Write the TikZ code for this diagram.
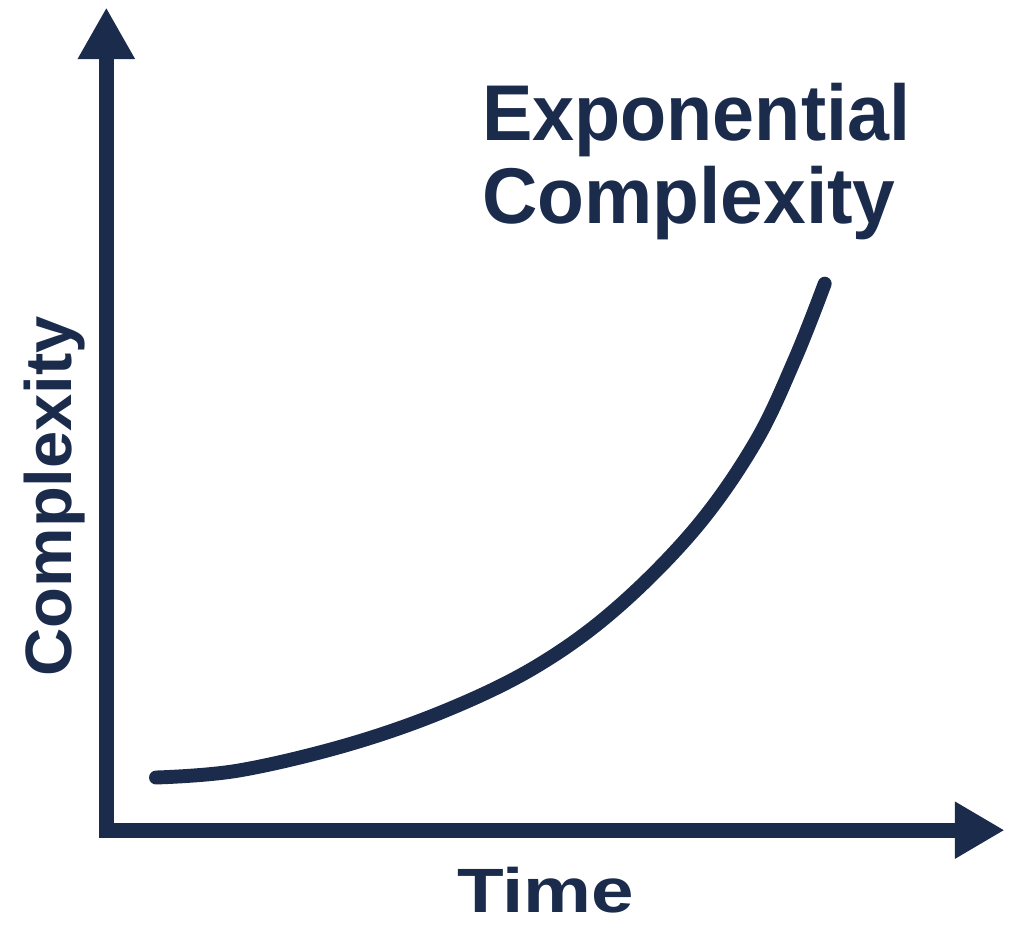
\documentclass[tikz,border=0pt]{standalone}
\usepackage{fontspec}
\setmainfont{Liberation Sans}
\usetikzlibrary{arrows.meta}
\definecolor{navy}{RGB}{27,43,76}
\tikzset{
  axis/.style={draw=navy, line width=15pt, line join=miter, line cap=butt,
    {Triangle[width=54pt,length=52pt]}-{Triangle[width=54pt,length=50pt]}},
  curve/.style={draw=navy, line width=14pt, line cap=round, line join=round},
  lbl/.style={text=navy, inner sep=0pt, font=\bfseries}
}
\begin{document}
\begin{tikzpicture}[x=1pt,y=-1pt]
\path[fill=white] (0,0) rectangle (1012,934);
\coordinate (ytip) at (107,6);
\coordinate (origin) at (107,834);
\coordinate (xtip) at (1011,834);
\draw[axis] (ytip) -- (origin) -- (xtip);
\draw[curve] plot[smooth, tension=0.6] coordinates {(157,781) (240,774) (350,748) (450,713) (540,669) (620,611) (700,530) (760,444) (800,360) (830,284)};
\node[lbl, anchor=base west, xscale=0.955, font=\bfseries\fontsize{79.6}{80}\selectfont] (title1) at (485,140) {Exponential};
\node[lbl, anchor=base west, xscale=0.97, font=\bfseries\fontsize{79.6}{80}\selectfont] (title2) at (485,223) {Complexity};
\node[lbl, anchor=base west, xscale=1.22, font=\bfseries\fontsize{63}{64}\selectfont] (xlabel) at (460,917) {Time};
\node[lbl, anchor=base, rotate=90, xscale=1.02, font=\bfseries\fontsize{66}{66}\selectfont] (ylabel) at (72,498) {Complexity};
\end{tikzpicture}
\end{document}
